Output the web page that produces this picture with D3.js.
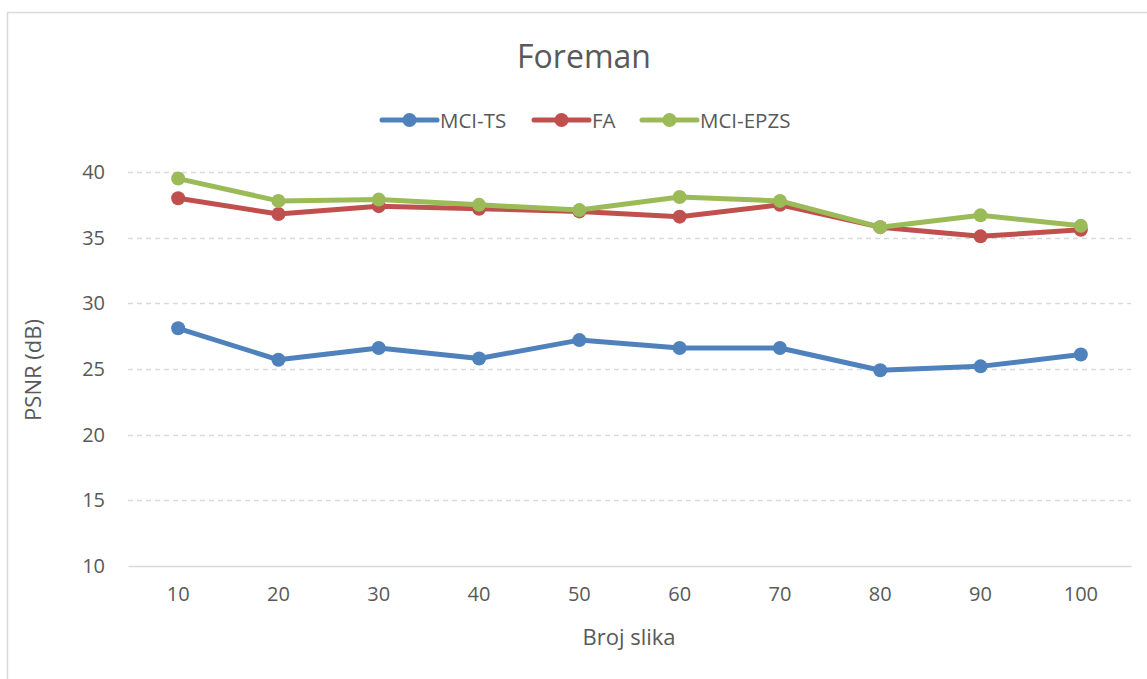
<!DOCTYPE html>
<html>
<head>
<meta charset="utf-8">
<script src="https://cdn.jsdelivr.net/npm/d3@7"></script>
<style>
  body { margin: 0; background: #fff; }
  text { font-family: "Open Sans", "Liberation Sans", sans-serif; fill: #595959; }
</style>
</head>
<body>
<svg id="chart" width="1147" height="679"></svg>
<script>
// data
var categories = ["10", "20", "30", "40", "50", "60", "70", "80", "90", "100"]
var mci_ts   = [28.1, 25.7, 26.6, 25.8, 27.2, 26.6, 26.6, 24.9, 25.2, 26.1]
var fa       = [38.0, 36.8, 37.4, 37.2, 37.0, 36.6, 37.5, 35.8, 35.1, 35.6]
var mci_epzs = [39.5, 37.8, 37.9, 37.5, 37.1, 38.1, 37.8, 35.8, 36.7, 35.9]
var yTicks = [10, 15, 20, 25, 30, 35, 40]

var series = [
  {name: "MCI-TS", values: mci_ts, color: "#4F81BD"},
  {name: "FA", values: fa, color: "#C0504D"},
  {name: "MCI-EPZS", values: mci_epzs, color: "#9BBB59"}
]

var margins = {"left": 128, "right": 16, "top": 172, "bottom": 113}
var width = 1147 - margins.left - margins.right
var height = 679 - margins.top - margins.bottom

var svg = d3.select("#chart")

// outer chart border
svg.append("rect")
  .attr("x", 7.5).attr("y", 12.5)
  .attr("width", 1200).attr("height", 700)
  .attr("fill", "none")
  .attr("stroke", "#D9D9D9")
  .attr("stroke-width", 1.5)

var g = svg.append("g")
  .attr("transform", "translate(" + margins.left + "," + margins.top + ")")

var xScale = d3.scaleBand()
  .domain(categories)
  .range([0, width])

var yScale = d3.scaleLinear()
  .domain([10, 40])
  .range([height, 0])

// gridlines
g.selectAll(".grid")
  .data(yTicks.filter(function(d){ return d > 10 }))
  .enter()
  .append("line")
  .attr("class", "grid")
  .attr("x1", 0).attr("x2", width)
  .attr("y1", function(d){ return Math.round(yScale(d)) + 0.5 })
  .attr("y2", function(d){ return Math.round(yScale(d)) + 0.5 })
  .attr("stroke", "#D9D9D9")
  .attr("stroke-width", 1.3)
  .attr("stroke-dasharray", "5,4")

// y axis (labels only)
var yAxis = g.append("g")
  .call(d3.axisLeft(yScale).tickValues(yTicks).tickSize(0).tickPadding(23))
yAxis.select(".domain").remove()
yAxis.selectAll("text")
  .attr("font-size", "20px")
  .attr("fill", "#595959")
  .style("font-family", "'Open Sans', sans-serif")

// x axis
var xAxis = g.append("g")
  .attr("transform", "translate(0," + height + ")")
  .call(d3.axisBottom(xScale).tickSize(0).tickPadding(21))
xAxis.select(".domain")
  .attr("stroke", "#D9D9D9")
  .attr("stroke-width", 1.5)
xAxis.selectAll("text")
  .attr("font-size", "20px")
  .attr("fill", "#595959")
  .style("font-family", "'Open Sans', sans-serif")

var line = d3.line()
  .x(function(d, i){ return xScale(categories[i]) + xScale.bandwidth() / 2 })
  .y(function(d){ return yScale(d) })

series.forEach(function(s){
  g.append("path")
    .datum(s.values)
    .attr("d", line)
    .attr("fill", "none")
    .attr("stroke", s.color)
    .attr("stroke-width", 5)
    .attr("stroke-linejoin", "round")
    .attr("stroke-linecap", "round")

  g.selectAll(".pt-" + s.name)
    .data(s.values)
    .enter()
    .append("circle")
    .attr("cx", function(d, i){ return xScale(categories[i]) + xScale.bandwidth() / 2 })
    .attr("cy", function(d){ return yScale(d) })
    .attr("r", 7)
    .attr("fill", s.color)
})

// title
svg.append("text")
  .attr("x", 584).attr("y", 68)
  .attr("text-anchor", "middle")
  .attr("font-size", "32px")
  .text("Foreman")

// legend
var legendX = [382, 534, 642]
var legend = svg.selectAll(".legend")
  .data(series)
  .enter()
  .append("g")
  .attr("transform", function(d, i){ return "translate(" + legendX[i] + ",120)" })
legend.append("line")
  .attr("x1", 0).attr("x2", 55)
  .attr("stroke", function(d){ return d.color })
  .attr("stroke-width", 5)
  .attr("stroke-linecap", "round")
legend.append("circle")
  .attr("cx", 27.5).attr("r", 7)
  .attr("fill", function(d){ return d.color })
legend.append("text")
  .attr("x", 58).attr("y", 7.5)
  .attr("font-size", "20.5px")
  .text(function(d){ return d.name })

// axis titles
svg.append("text")
  .attr("transform", "translate(41,370) rotate(-90)")
  .attr("text-anchor", "middle")
  .attr("font-size", "22px")
  .text("PSNR (dB)")

svg.append("text")
  .attr("x", 629).attr("y", 645)
  .attr("text-anchor", "middle")
  .attr("font-size", "22px")
  .text("Broj slika")
</script>
</body>
</html>
